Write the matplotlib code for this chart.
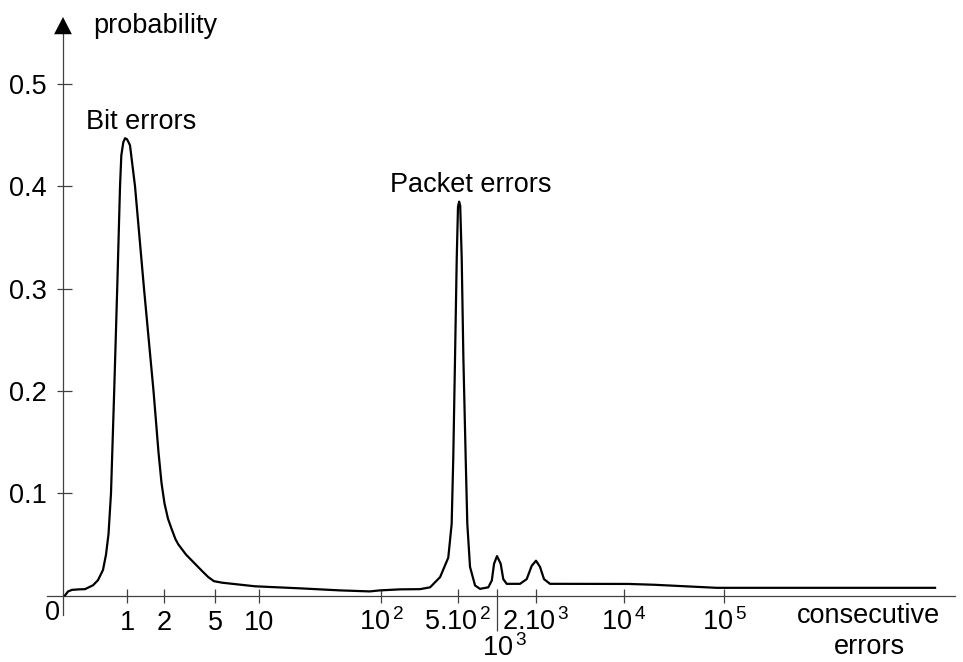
import numpy as np
import matplotlib
matplotlib.use("Agg")
import matplotlib.pyplot as plt

plt.rcParams['font.family'] = ['Liberation Sans', 'DejaVu Sans']
plt.rcParams['mathtext.fontset'] = 'custom'
plt.rcParams['mathtext.rm'] = 'Liberation Sans'
plt.rcParams['mathtext.it'] = 'Liberation Sans:italic'
plt.rcParams['mathtext.bf'] = 'Liberation Sans:bold'

# --- data ---
run_length = [0.03, 0.08, 0.14, 0.25, 0.344, 0.469, 0.547, 0.625, 0.672, 0.711,
              0.75, 0.80, 0.847, 0.891, 0.911, 0.942, 0.97, 1.0, 1.03,
              1.058, 1.162, 1.375, 1.643, 1.722, 1.804, 1.909, 2.018, 2.149, 2.309,
              2.459, 2.586, 2.97, 3.49,
              3.96, 4.43, 4.91, 5.6, 9.4, 21.7, 46, 81, 98, 149, 226, 279,
              344, 408, 438, 453, 470, 487, 500, 510, 520, 534,
              550, 573, 590, 619, 677, 739, 857, 912, 949, 1000,
              1068, 1118, 1188, 1505, 1695, 1853, 2000, 2152, 2315, 2584,
              3102, 11000, 20000, 84500, 1.29e7]
probability = [0.000, 0.004, 0.0055, 0.006, 0.0062, 0.010, 0.015, 0.025, 0.040, 0.060,
               0.100, 0.200, 0.300, 0.400, 0.430, 0.443, 0.447, 0.446, 0.443,
               0.440, 0.400, 0.300, 0.200, 0.170, 0.140, 0.110, 0.090, 0.075, 0.064,
               0.055, 0.050, 0.040, 0.031,
               0.024, 0.018, 0.014, 0.0125, 0.009, 0.007, 0.005, 0.004, 0.005, 0.006, 0.0062, 0.008,
               0.018, 0.037, 0.070, 0.135, 0.233, 0.330, 0.380, 0.385, 0.381, 0.330,
               0.233, 0.135, 0.070, 0.028, 0.0098, 0.0065, 0.008, 0.0147, 0.031, 0.0385,
               0.031, 0.016, 0.0114, 0.0114, 0.016, 0.029, 0.034, 0.028, 0.016, 0.0114,
               0.0114, 0.0113, 0.0105, 0.0075, 0.0075]

y_ticks = [0.1, 0.2, 0.3, 0.4, 0.5]
y_tick_labels = ['0.1', '0.2', '0.3', '0.4', '0.5']
x_ticks = [1, 2, 5, 10, 100, 500, 1000, 2000, 1e4, 1e5]
x_tick_labels = ['1', '2', '5', '10', r'$\mathregular{10^{\,2}}$', r'$\mathregular{5.10^{\,2}}$',
                 r'$\mathregular{10^{\,3}}$', r'$\mathregular{2.10^{\,3}}$',
                 r'$\mathregular{10^{\,4}}$', r'$\mathregular{10^{\,5}}$']

# --- schematic (hand drawn) x axis: piecewise log scale ---
W, H = 963, 662
SCALE_U = [-10, -1, 0, np.log10(2), np.log10(5), 1, 2, np.log10(500), 3, np.log10(2000), 4, 5, 10]
SCALE_P = [-513, 63, 127, 164, 215, 259, 381, 458, 497, 536, 624, 724, 1224]


def to_u(x):
    x = np.asarray(x, dtype=float)
    return np.where(x < 1, x - 1, np.log10(np.maximum(x, 1)))


def from_u(u):
    u = np.asarray(u, dtype=float)
    return np.where(u < 0, u + 1, 10 ** np.maximum(u, 0))


def forward(x):
    return np.interp(to_u(x), SCALE_U, SCALE_P)


def inverse(p):
    return from_u(np.interp(p, SCALE_P, SCALE_U))


def xv(px):
    return float(inverse(px))


def yv(py):
    return (595.5 - py) / 1023.0


fig = plt.figure(figsize=(W / 100, H / 100), dpi=100)
ax = fig.add_axes([0, 0, 1, 1])
ax.set_xscale('function', functions=(forward, inverse))
ax.set_xlim(xv(0), xv(W))
ax.set_ylim(yv(H), yv(0))
ax.axis('off')

axis_col = '#404040'
fs = 19.5

# axes lines + arrow heads
ax.plot([xv(47), xv(955)], [0, 0], color=axis_col, lw=0.9, clip_on=False)
ax.plot([0, 0], [yv(615), yv(25)], color=axis_col, lw=0.9, clip_on=False)
arrow = dict(arrowstyle='-|>,head_length=0.62,head_width=0.32',
             color='black', lw=0, mutation_scale=20, shrinkA=0, shrinkB=0)
ax.annotate('', xy=(xv(964), 0), xytext=(xv(900), 0), arrowprops=arrow)
ax.annotate('', xy=(0, yv(17)), xytext=(0, yv(80)), arrowprops=arrow)

# ticks
ax.hlines(y_ticks, xv(57), xv(72), color=axis_col, lw=0.9)
for v, lab in zip(y_ticks, y_tick_labels):
    ax.text(xv(47), v - 10 / 1023, lab, ha='right', va='baseline', fontsize=fs)
for v, lab in zip(x_ticks, x_tick_labels):
    if v == 1000:
        ax.vlines(v, yv(589), yv(631), color=axis_col, lw=0.9)
        ax.text(xv(504), yv(656), lab, ha='center', va='baseline', fontsize=fs)
    else:
        ax.vlines(v, yv(589), yv(603), color=axis_col, lw=0.9)
        ax.text(v, yv(630), lab, ha='center', va='baseline', fontsize=fs)
ax.text(xv(53), yv(620), '0', ha='center', va='baseline', fontsize=fs)

# curve
ax.plot(run_length, probability, color='black', lw=1.6, solid_joinstyle='round')

# labels
ax.text(xv(93), yv(33), 'probability', ha='left', va='baseline', fontsize=fs)
ax.text(xv(86), yv(129), 'Bit errors', ha='left', va='baseline', fontsize=fs)
ax.text(xv(390), yv(192), 'Packet errors', ha='left', va='baseline', fontsize=fs)
ax.text(xv(868), yv(623), 'consecutive', ha='center', va='baseline', fontsize=fs)
ax.text(xv(869), yv(654), 'errors', ha='center', va='baseline', fontsize=fs)

fig.savefig('out.png', dpi=100, facecolor='white')
